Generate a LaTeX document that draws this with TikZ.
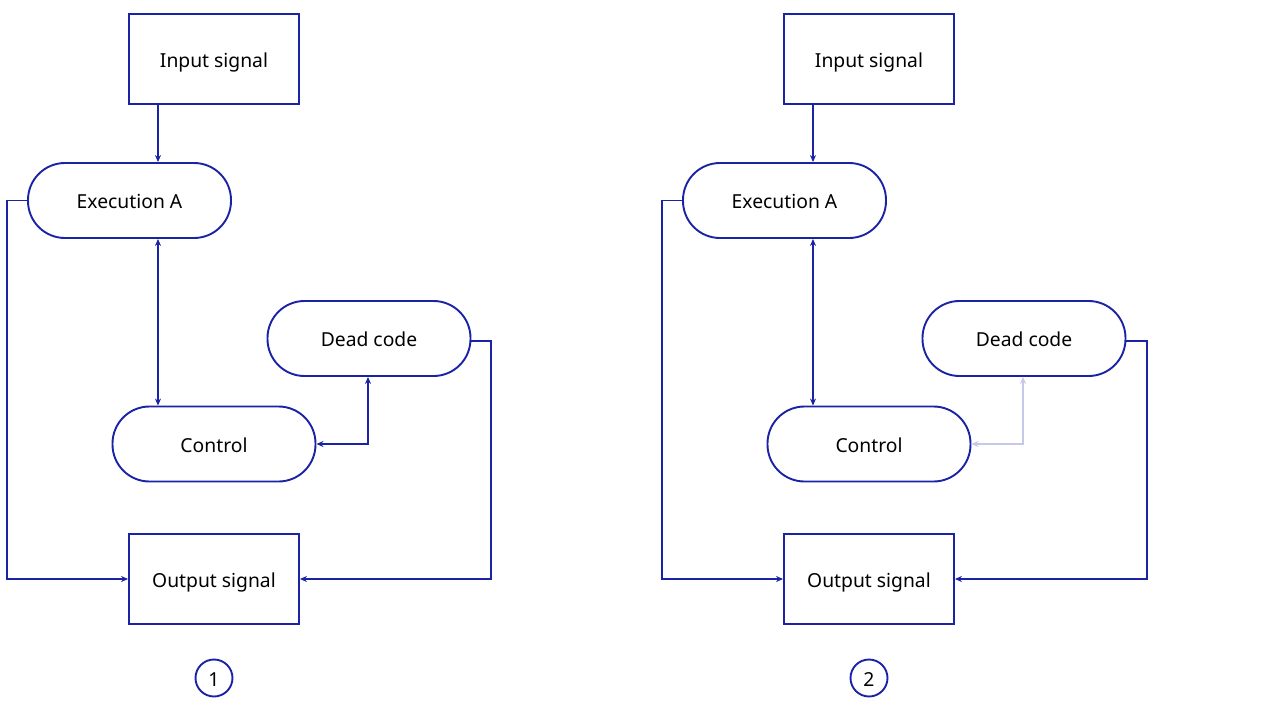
\documentclass[tikz,border=0pt]{standalone}
\usepackage{fontspec}
\setmainfont{Noto Sans}
\usetikzlibrary{arrows.meta}
\definecolor{lineblue}{RGB}{26,35,166}
\definecolor{fadeblue}{RGB}{196,200,234}
\tikzset{
  lbl/.style={font=\fontsize{19.3}{22}\selectfont, text=black, text height=18pt, text depth=2pt, inner sep=0pt},
  box/.style={lbl, draw=lineblue, line width=1.9pt, fill=white, minimum width=170pt, minimum height=90pt},
  pill/.style={lbl, draw=lineblue, line width=1.9pt, fill=white, minimum width=203pt, minimum height=75pt, rounded corners=37pt},
  numcirc/.style={lbl, draw=lineblue, line width=1.9pt, circle, minimum size=37pt},
  conn/.style={draw=lineblue, line width=1.6pt, -{Stealth[length=7pt,width=6pt]}},
  biconn/.style={draw=lineblue, line width=1.6pt, {Stealth[length=7pt,width=6pt]}-{Stealth[length=7pt,width=6pt]}},
  faded/.style={draw=fadeblue, line width=1.6pt, {Stealth[length=7pt,width=6pt]}-{Stealth[length=7pt,width=6pt]}}
}
\begin{document}
\begin{tikzpicture}[x=1pt,y=-1pt]
\useasboundingbox (0,0) rectangle (1280,720);
% ---------- diagram 1 ----------
\node[box]  (in1)  at (214,59)    {Input signal};
\node[pill] (ex1)  at (129.5,200.5) {Execution A};
\node[pill] (dc1)  at (369,338.5) {Dead code};
\node[pill] (ct1)  at (214,444)   {Control};
\node[box]  (out1) at (214,579)   {Output signal};
\node[numcirc] (n1) at (214,678)  {1};
\coordinate (va1) at (158,0);
\coordinate (vl1) at (7,0);
\coordinate (vr1) at (491,0);
\coordinate (vd1) at (368,0);
\draw[conn] (in1.south -| va1) -- (ex1.north -| va1);
\draw[biconn] (ex1.south -| va1) -- (ct1.north -| va1);
\draw[conn] (ex1.west) -- (ex1.west -| vl1) |- (out1.west);
\draw[conn] ([yshift=-2.5pt]dc1.east) -- ([yshift=-2.5pt]dc1.east -| vr1) |- (out1.east);
\draw[biconn] (ct1.east) -| (dc1.south -| vd1);
% ---------- diagram 2 ----------
\node[box]  (in2)  at (869,59)    {Input signal};
\node[pill] (ex2)  at (784.5,200.5) {Execution A};
\node[pill] (dc2)  at (1024,338.5) {Dead code};
\node[pill] (ct2)  at (869,444)   {Control};
\node[box]  (out2) at (869,579)   {Output signal};
\node[numcirc] (n2) at (869,678)  {2};
\coordinate (va2) at (813,0);
\coordinate (vl2) at (662,0);
\coordinate (vr2) at (1147,0);
\coordinate (vd2) at (1023,0);
\draw[conn] (in2.south -| va2) -- (ex2.north -| va2);
\draw[biconn] (ex2.south -| va2) -- (ct2.north -| va2);
\draw[conn] (ex2.west) -- (ex2.west -| vl2) |- (out2.west);
\draw[conn] ([yshift=-2.5pt]dc2.east) -- ([yshift=-2.5pt]dc2.east -| vr2) |- (out2.east);
\draw[faded] (ct2.east) -| (dc2.south -| vd2);
\end{tikzpicture}
\end{document}
